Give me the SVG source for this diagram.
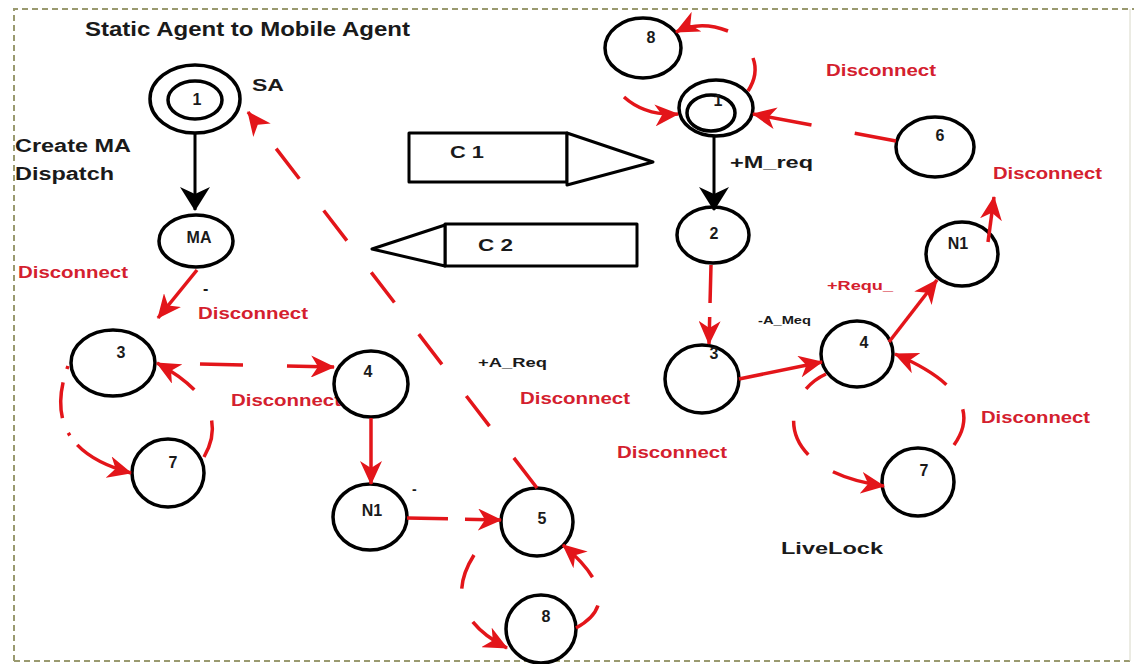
<svg xmlns="http://www.w3.org/2000/svg" width="1134" height="664" viewBox="0 0 1134 664">
<style>
.t{font-family:"Liberation Sans",Arial,sans-serif;font-weight:bold;fill:#1a1a1a}
.r{font-family:"Liberation Sans",Arial,sans-serif;font-weight:bold;fill:#d4202e}
.n{fill:#fff;stroke:#000;stroke-width:3.5}
.c{fill:none;stroke:#e3151a;stroke-width:3.5}
.k{fill:none;stroke:#000;stroke-width:3}
.sh{fill:#fff;stroke:#000;stroke-width:3;stroke-linejoin:round}
</style>
<defs>
<marker id="ra" viewBox="0 0 24 22" markerWidth="24" markerHeight="22" refX="23" refY="11" orient="auto" markerUnits="userSpaceOnUse">
<path d="M0,0 L24,11 L0,22 L7,11 z" fill="#e3151a"/>
</marker>
<marker id="ba" viewBox="0 0 24 30" markerWidth="24" markerHeight="30" refX="23" refY="15" orient="auto" markerUnits="userSpaceOnUse">
<path d="M0,0 L24,15 L0,30 L7,15 z" fill="#000"/>
</marker>
</defs>
<rect width="1134" height="664" fill="#fff"/>
<g id="frame" fill="none" stroke="#9a9a70" stroke-width="2" stroke-dasharray="6 4">
<path d="M14,661 L14,9 L1134,9"/>
<path d="M14,661 L1130,661"/>
<path d="M1130,9 L1130,661" stroke="#d8d8c8" stroke-dasharray="none" stroke-width="1"/>
</g>
<g id="labels">
<text class="t" x="85" y="36" font-size="20" textLength="325" lengthAdjust="spacingAndGlyphs">Static Agent to Mobile Agent</text>
<text class="t" x="252" y="91" font-size="17" textLength="32" lengthAdjust="spacingAndGlyphs">SA</text>
<text class="t" x="15" y="152" font-size="18" textLength="116" lengthAdjust="spacingAndGlyphs">Create MA</text>
<text class="t" x="15" y="180" font-size="18" textLength="99" lengthAdjust="spacingAndGlyphs">Dispatch</text>
<text class="r" x="18" y="278" font-size="16" textLength="110" lengthAdjust="spacingAndGlyphs">Disconnect</text>
<text class="t" x="203" y="294" font-size="16">-</text>
<text class="r" x="198" y="319" font-size="16" textLength="110" lengthAdjust="spacingAndGlyphs">Disconnect</text>
<text class="r" x="231" y="406" font-size="16" textLength="110" lengthAdjust="spacingAndGlyphs">Disconnect</text>
<text class="t" x="412" y="494" font-size="14">-</text>
<text class="t" x="478" y="367" font-size="12" textLength="69" lengthAdjust="spacingAndGlyphs">+A_Req</text>
<text class="r" x="520" y="404" font-size="16" textLength="110" lengthAdjust="spacingAndGlyphs">Disconnect</text>
<text class="r" x="617" y="458" font-size="16" textLength="110" lengthAdjust="spacingAndGlyphs">Disconnect</text>
<text class="r" x="826" y="76" font-size="16" textLength="110" lengthAdjust="spacingAndGlyphs">Disconnect</text>
<text class="t" x="730" y="168" font-size="16" textLength="83" lengthAdjust="spacingAndGlyphs">+M_req</text>
<text class="r" x="993" y="179" font-size="16" textLength="109" lengthAdjust="spacingAndGlyphs">Disconnect</text>
<text class="r" x="827" y="290" font-size="12" textLength="66" lengthAdjust="spacingAndGlyphs">+Requ_</text>
<text class="t" x="758" y="324" font-size="11" textLength="53" lengthAdjust="spacingAndGlyphs">-A_Meq</text>
<text class="r" x="981" y="423" font-size="16" textLength="109" lengthAdjust="spacingAndGlyphs">Disconnect</text>
<text class="t" x="781" y="554" font-size="17" textLength="102" lengthAdjust="spacingAndGlyphs">LiveLock</text>
</g>
<g id="C1">
<rect class="sh" x="409" y="133" width="158" height="49"/>
<path class="sh" d="M567,133 L653,162 L567,185 Z"/>
<text class="t" x="450" y="158" font-size="17" textLength="34" lengthAdjust="spacingAndGlyphs">C 1</text>
</g>
<g id="C2">
<rect class="sh" x="445" y="224" width="192" height="42"/>
<path class="sh" d="M445,225 L372,249 L445,266 Z"/>
<text class="t" x="478" y="251" font-size="17" textLength="35" lengthAdjust="spacingAndGlyphs">C 2</text>
</g>
<g id="nSA"><ellipse class="n" cx="195" cy="99" rx="45" ry="34"/><ellipse class="n" cx="195" cy="100" rx="27" ry="19"/><text class="t" x="197" y="105" font-size="16" text-anchor="middle">1</text></g>
<g id="nMA"><ellipse class="n" cx="196" cy="241" rx="37" ry="26"/><text class="t" x="199" y="243" font-size="16" text-anchor="middle">MA</text></g>
<g id="n3L"><ellipse class="n" cx="113" cy="363" rx="42" ry="33"/><text class="t" x="121" y="358" font-size="16" text-anchor="middle">3</text></g>
<g id="n7L"><ellipse class="n" cx="168" cy="473" rx="36" ry="34"/><text class="t" x="173" y="468" font-size="16" text-anchor="middle">7</text></g>
<g id="n4L"><ellipse class="n" cx="371" cy="384" rx="37" ry="33"/><text class="t" x="368" y="377" font-size="16" text-anchor="middle">4</text></g>
<g id="nN1L"><ellipse class="n" cx="370" cy="517" rx="37" ry="33"/><text class="t" x="372" y="516" font-size="16" text-anchor="middle">N1</text></g>
<g id="n5"><ellipse class="n" cx="537" cy="522" rx="36" ry="34"/><text class="t" x="542" y="524" font-size="16" text-anchor="middle">5</text></g>
<g id="n8L"><ellipse class="n" cx="541" cy="629" rx="35" ry="34"/><text class="t" x="546" y="622" font-size="16" text-anchor="middle">8</text></g>
<g id="n8R"><ellipse class="n" cx="643" cy="48" rx="38" ry="30"/><text class="t" x="651" y="43" font-size="16" text-anchor="middle">8</text></g>
<g id="n1R"><ellipse class="n" cx="716" cy="108" rx="37" ry="28"/><ellipse class="n" cx="711" cy="113" rx="24" ry="18"/><text class="t" x="718" y="106" font-size="16" text-anchor="middle">1</text></g>
<g id="n6"><ellipse class="n" cx="935" cy="147" rx="39" ry="30"/><text class="t" x="940" y="141" font-size="16" text-anchor="middle">6</text></g>
<g id="n2"><ellipse class="n" cx="713" cy="235" rx="36" ry="28"/><text class="t" x="714" y="239" font-size="16" text-anchor="middle">2</text></g>
<g id="nN1R"><ellipse class="n" cx="962" cy="254" rx="36" ry="32"/><text class="t" x="958" y="249" font-size="16" text-anchor="middle">N1</text></g>
<g id="n3R"><ellipse class="n" cx="702" cy="379" rx="37" ry="34"/><text class="t" x="714" y="359" font-size="16" text-anchor="middle">3</text></g>
<g id="n4R"><ellipse class="n" cx="857" cy="354" rx="36" ry="33"/><text class="t" x="864" y="348" font-size="16" text-anchor="middle">4</text></g>
<g id="n7R"><ellipse class="n" cx="918" cy="482" rx="36" ry="34"/><text class="t" x="924" y="476" font-size="16" text-anchor="middle">7</text></g>
<g id="connectors">
<path class="k" d="M195,133 L195,210" marker-end="url(#ba)"/>
<path class="k" d="M714,136 L714,210" marker-end="url(#ba)"/>
<path class="c" d="M197,270 L158,318" marker-end="url(#ra)"/>
<path class="c" d="M537,488 L248,112" stroke-dasharray="38 40" marker-end="url(#ra)"/>
<path class="c" d="M200,364 L334,367" stroke-dasharray="43 44 200" marker-end="url(#ra)"/>
<path class="c" d="M204,457 Q234,405 157,363" stroke-dasharray="38 36 200" marker-end="url(#ra)"/>
<path class="c" d="M68,366 Q38,448 131,473" stroke-dasharray="3 14 36 16 3 12 200" marker-end="url(#ra)"/>
<path class="c" d="M371,418 L371,484" marker-end="url(#ra)"/>
<path class="c" d="M407,518 L501,520" stroke-dasharray="41 17 200" marker-end="url(#ra)"/>
<path class="c" d="M576,628 Q628,600 563,545" stroke-dasharray="32 30 200" marker-end="url(#ra)"/>
<path class="c" d="M474,555 Q438,612 507,648" stroke-dasharray="36 36 200" marker-end="url(#ra)"/>
<path class="c" d="M728,31 Q700,20 676,32" marker-end="url(#ra)"/>
<path class="c" d="M748,91 Q759,74 753,58"/>
<path class="c" d="M624,97 Q645,116 678,114" marker-end="url(#ra)"/>
<path class="c" d="M896,141 L753,114" stroke-dasharray="42 44 200" marker-end="url(#ra)"/>
<path class="c" d="M711,265 L709,344" stroke-dasharray="38 14 200" marker-end="url(#ra)"/>
<path class="c" d="M739,379 L822,362" marker-end="url(#ra)"/>
<path class="c" d="M826,374 C780,395 770,470 884,486" stroke-dasharray="25 35 38 30 200" marker-end="url(#ra)"/>
<path class="c" d="M889,342 L937,280" marker-end="url(#ra)"/>
<path class="c" d="M988,242 L994,197" marker-end="url(#ra)"/>
<path class="c" d="M954,445 Q990,395 895,354" stroke-dasharray="38 30 200" marker-end="url(#ra)"/>
</g>
</svg>
